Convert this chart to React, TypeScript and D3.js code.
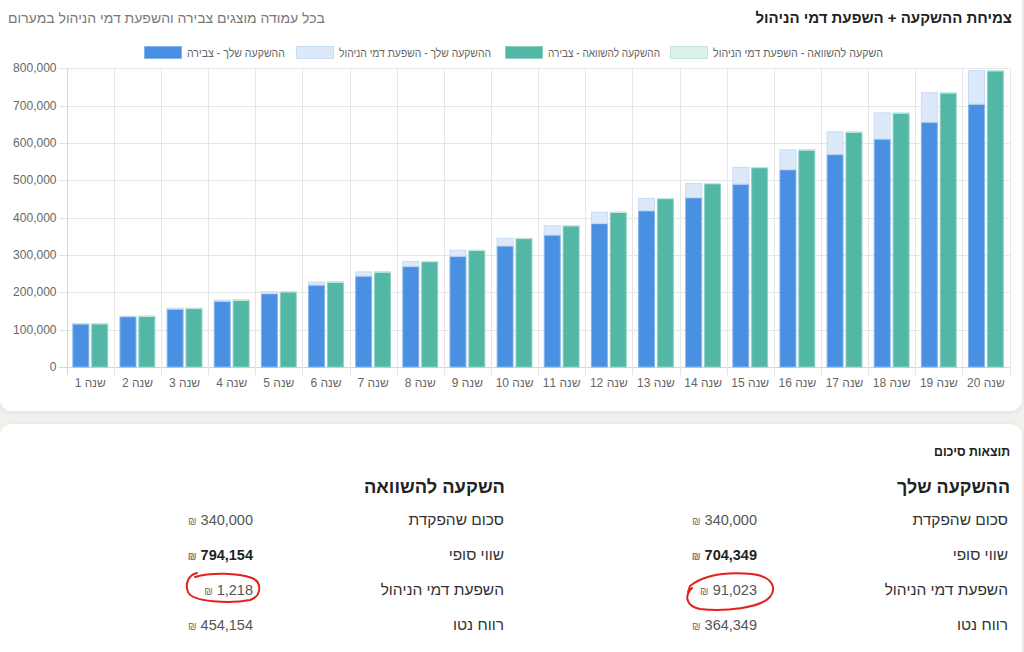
import React from 'react';
import * as d3 from 'd3';

const years = Array.from({ length: 20 }, (_, i) => `שנה ${i + 1}`);
const yourAccumulated = [116800, 135800, 155500, 176500, 197000, 220000, 244000, 270000, 297000, 325000, 354000, 385000, 419000, 454000, 490000, 529000, 570000, 611000, 656000, 704349];
const yourFeeImpact = [700, 1700, 3000, 4000, 6000, 9000, 12000, 14000, 17000, 21000, 26000, 31000, 34000, 39000, 46000, 54000, 61000, 71000, 80000, 91023];
const compAccumulated = [117490, 137470, 158450, 180430, 202900, 228870, 255830, 283790, 313750, 345700, 379650, 415600, 452540, 492480, 535410, 582340, 630250, 681150, 735020, 794154];
const compFeeImpact = [10, 30, 50, 70, 100, 130, 170, 210, 250, 300, 350, 400, 460, 520, 590, 660, 750, 850, 980, 1218];
const yTicks = [0, 100000, 200000, 300000, 400000, 500000, 600000, 700000, 800000];
const legendLabels = ['ההשקעה שלך - צבירה', 'ההשקעה שלך - השפעת דמי הניהול', 'ההשקעה להשוואה - צבירה', 'השקעה להשוואה - השפעת דמי הניהול'];
const summaryLabels = ['סכום שהפקדת', 'שווי סופי', 'השפעת דמי הניהול', 'רווח נטו'];
const yourSummary = [340000, 704349, 91023, 364349];
const compSummary = [340000, 794154, 1218, 454154];

const C = {
  blue: '#4a90e2', blueBorder: '#86b5ec',
  lightBlue: '#dce9f9', lightBlueBorder: '#c9dcf4',
  green: '#52b7a5', greenBorder: '#8fd1c5',
  lightGreen: '#d9f2ec', lightGreenBorder: '#c3e9df',
};
const legendFill = [C.blue, C.lightBlue, C.green, C.lightGreen];
const legendStroke = [C.blueBorder, C.lightBlueBorder, C.greenBorder, C.lightGreenBorder];
const legendX = [144, 296, 505, 670];
const legendTextW = [98, 152, 112, 170];

const FONT = '"Liberation Sans", Arial, Helvetica, sans-serif';
const fmt = d3.format(',');

export default function App() {
  const W = 1024, H = 652;
  const x = d3.scaleBand<string>().domain(years).range([66.7, 1009.5]);
  const sub = d3.scaleBand<string>().domain(['yours', 'comp']).range([x.bandwidth() * 0.1, x.bandwidth() * 0.9]).paddingInner(0.1).paddingOuter(0.05);
  const y = d3.scaleLinear().domain([0, 800000]).range([367, 68.3]);
  const [x0, x1] = x.range();
  const bw = sub.bandwidth();

  const bar = (key: string, i: number, base: number, val: number, fill: string, stroke: string) => {
    const bx = (x(years[i]) as number) + (sub(key) as number);
    const top = y(base + val);
    const bot = y(base);
    const h = bot - top;
    if (h <= 0) return null;
    return (
      <rect key={`${key}-${i}-${base}`} x={bx + 0.5} y={top + 0.5} width={bw - 1} height={Math.max(h - 0.5, 0.3)} fill={fill} stroke={stroke} strokeWidth={1} />
    );
  };

  const summaryRowY = [520, 555, 590, 625];

  return (
    <div style={{ position: 'absolute', left: 0, top: 0, width: W, height: H }}>
      <svg width={W} height={H} style={{ display: 'block', fontFamily: FONT }}>
        <defs>
          <filter id="sh" x="-5%" y="-5%" width="110%" height="115%">
            <feDropShadow dx="0" dy="1" stdDeviation="3" floodColor="#000" floodOpacity="0.07" />
          </filter>
        </defs>
        <rect x={0} y={0} width={W} height={H} fill="#f3f1ee" />
        <rect x={0} y={-30} width={1022} height={441} rx={12} fill="#fff" filter="url(#sh)" />
        <rect x={0} y={424} width={1022} height={260} rx={12} fill="#fff" filter="url(#sh)" />

        {/* headings */}
        <text x={1012} y={23} textAnchor="end" fontSize={15} fontWeight="bold" fill="#222">צמיחת ההשקעה + השפעת דמי הניהול</text>
        <text x={8} y={23} textAnchor="start" fontSize={14} fill="#7a7a7a" textLength={317} lengthAdjust="spacingAndGlyphs">בכל עמודה מוצגים צבירה והשפעת דמי הניהול במערום</text>

        {/* legend */}
        {legendLabels.map((l, i) => (
          <g key={l}>
            <rect x={legendX[i] + 0.5} y={46.5} width={37} height={12} fill={legendFill[i]} stroke={legendStroke[i]} />
            <text x={legendX[i] + 43} y={56.5} fontSize={12} fill="#666" textLength={legendTextW[i]} lengthAdjust="spacingAndGlyphs">{l}</text>
          </g>
        ))}

        {/* grid */}
        {yTicks.map(t => (
          <line key={`g${t}`} x1={x0 - 8} x2={x1} y1={Math.round(y(t)) + 0.5} y2={Math.round(y(t)) + 0.5} stroke={t === 0 ? '#d6d6d6' : '#e6e6e6'} />
        ))}
        {d3.range(21).map(i => {
          const gx = Math.round(x0 + i * x.step()) + 0.5;
          return <line key={`v${i}`} x1={gx} x2={gx} y1={y(800000)} y2={375} stroke={i === 0 ? '#d6d6d6' : '#e6e6e6'} />;
        })}
        {yTicks.map(t => (
          <text key={`t${t}`} x={56.5} y={y(t) + 4} textAnchor="end" fontSize={12} fill="#666">{fmt(t)}</text>
        ))}
        {years.map(yr => (
          <text key={yr} x={(x(yr) as number) + x.bandwidth() / 2} y={387} textAnchor="middle" fontSize={12} fill="#666" style={{ direction: 'rtl' }}>{yr}</text>
        ))}

        {/* bars */}
        {years.map((_, i) => (
          <g key={`b${i}`}>
            {bar('yours', i, 0, yourAccumulated[i], C.blue, C.blueBorder)}
            {bar('yours', i, yourAccumulated[i], yourFeeImpact[i], C.lightBlue, C.lightBlueBorder)}
            {bar('comp', i, 0, compAccumulated[i], C.green, C.greenBorder)}
            {bar('comp', i, compAccumulated[i], compFeeImpact[i], C.lightGreen, C.lightGreenBorder)}
          </g>
        ))}

        {/* summary */}
        <text x={1010} y={456} textAnchor="end" fontSize={13.5} fontWeight="bold" fill="#222" textLength={76} lengthAdjust="spacingAndGlyphs">תוצאות סיכום</text>
        <text x={1010} y={493} textAnchor="end" fontSize={18.5} fontWeight="bold" fill="#222" textLength={113} lengthAdjust="spacingAndGlyphs">ההשקעה שלך</text>
        <text x={505} y={493} textAnchor="end" fontSize={18.5} fontWeight="bold" fill="#222" textLength={141} lengthAdjust="spacingAndGlyphs">השקעה להשוואה</text>
        {summaryLabels.map((l, i) => (
          <g key={l}>
            <text x={1008} y={summaryRowY[i] + 5} textAnchor="end" fontSize={15.5} fill="#333">{l}</text>
            <text x={757} y={summaryRowY[i] + 5} textAnchor="end" fontSize={14.5} fontWeight={i === 1 ? 'bold' : 'normal'} fill={i === 1 ? '#222' : '#555'}>
              <tspan fontSize={10} fill="#777">₪</tspan> {fmt(yourSummary[i])}
            </text>
            <text x={504} y={summaryRowY[i] + 5} textAnchor="end" fontSize={15.5} fill="#333">{l}</text>
            <text x={253} y={summaryRowY[i] + 5} textAnchor="end" fontSize={14.5} fontWeight={i === 1 ? 'bold' : 'normal'} fill={i === 1 ? '#222' : '#555'}>
              <tspan fontSize={10} fill="#777">₪</tspan> {fmt(compSummary[i])}
            </text>
          </g>
        ))}

        {/* hand-drawn annotations */}
        <path d="M 197 573 C 188 575, 185 584, 188 592 C 192 602, 230 604, 250 600 C 262 596, 262 582, 252 578 C 238 573, 212 572, 195 577" fill="none" stroke="#e3221c" strokeWidth={2} strokeLinecap="round" />
        <path d="M 692 588 C 684 596, 686 606, 700 609 C 725 612, 760 608, 770 597 C 778 586, 770 576, 752 574 C 730 572, 705 574, 690 586 L 688 592" fill="none" stroke="#e3221c" strokeWidth={2} strokeLinecap="round" />
      </svg>
    </div>
  );
}
